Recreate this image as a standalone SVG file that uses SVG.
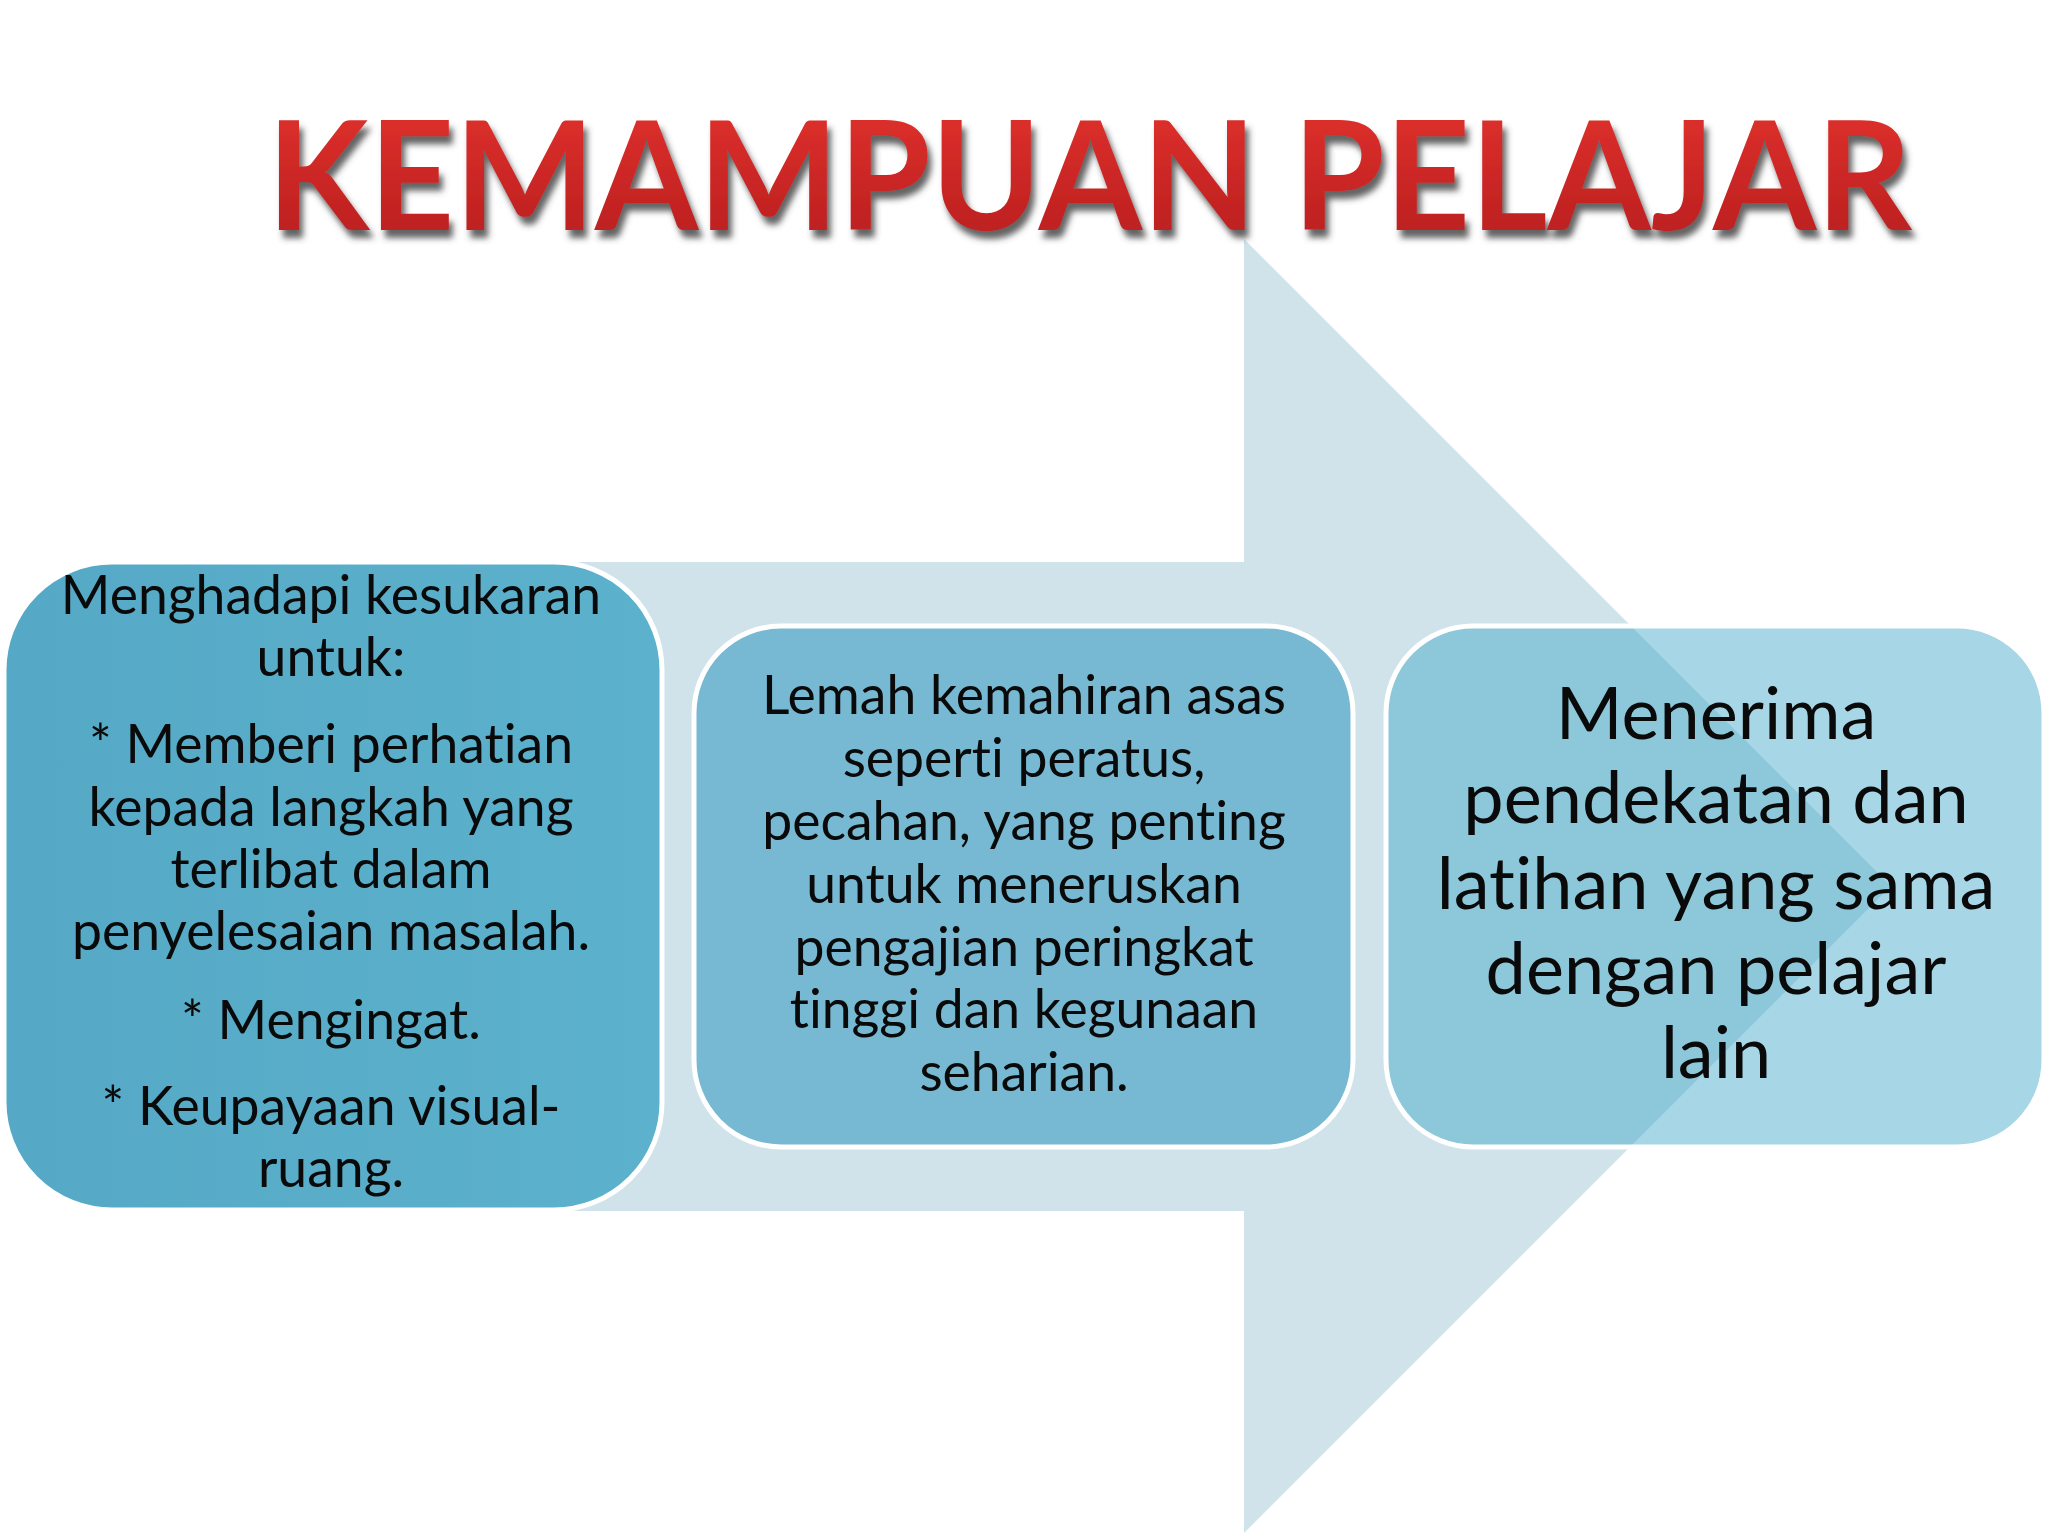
<svg xmlns="http://www.w3.org/2000/svg" width="2048" height="1536" viewBox="0 0 2048 1536">
  <defs>
    <linearGradient id="titleGrad" x1="0" y1="0" x2="0" y2="1">
      <stop offset="0" stop-color="#e6342f"/>
      <stop offset="1" stop-color="#b51c1d"/>
    </linearGradient>
    <linearGradient id="box1Grad" x1="0" y1="0" x2="1" y2="0">
      <stop offset="0" stop-color="#55a9c6"/>
      <stop offset="1" stop-color="#5cb1cc"/>
    </linearGradient>
    <filter id="titleShadow" x="-5%" y="-20%" width="110%" height="150%">
      <feDropShadow dx="4" dy="8" stdDeviation="3" flood-color="#4a4a4a" flood-opacity="0.85"/>
    </filter>
    <style>
      text { font-variant-ligatures: none; font-feature-settings: "liga" 0, "clig" 0; }
      .title { font-family: Lato, "Open Sans", "Liberation Sans", sans-serif; font-weight: 700; font-size: 152px; fill: url(#titleGrad); }
      .box { stroke: #ffffff; stroke-width: 5; }
      .txt { font-family: Lato, "Open Sans", "Liberation Sans", sans-serif; font-size: 53.5px; fill: #0a0a0a; text-anchor: middle; }
      .txt-lg { font-family: Lato, "Open Sans", "Liberation Sans", sans-serif; font-size: 72px; fill: #0a0a0a; text-anchor: middle; }
    </style>
  </defs>

  <rect x="0" y="0" width="2048" height="1536" fill="#ffffff"/>

  <g id="connectors">
    <polygon points="400,562 1244,562 1244,239 1891,886 1244,1533 1244,1211 400,1211" fill="#d0e3ea"/>
  </g>

  <g id="title">
    <text class="title" x="267" y="230" textLength="1645" lengthAdjust="spacingAndGlyphs" filter="url(#titleShadow)">KEMAMPUAN PELAJAR</text>
  </g>

  <g id="node-1">
    <rect class="box" x="4" y="562" width="658" height="648" rx="108" ry="108" fill="url(#box1Grad)"/>
    <text class="txt" x="331" y="614">Menghadapi kesukaran</text>
    <text class="txt" x="331" y="676">untuk:</text>
    <text class="txt" x="331" y="763">* Memberi perhatian</text>
    <text class="txt" x="331" y="826">kepada langkah yang</text>
    <text class="txt" x="331" y="888">terlibat dalam</text>
    <text class="txt" x="331" y="950">penyelesaian masalah.</text>
    <text class="txt" x="331" y="1039">* Mengingat.</text>
    <text class="txt" x="331" y="1125">* Keupayaan visual-</text>
    <text class="txt" x="331" y="1187">ruang.</text>
  </g>

  <g id="node-2">
    <rect class="box" x="694" y="626" width="659" height="521" rx="87" ry="87" fill="#77b9d2"/>
    <text class="txt" x="1024" y="714">Lemah kemahiran asas</text>
    <text class="txt" x="1024" y="777">seperti peratus,</text>
    <text class="txt" x="1024" y="840">pecahan, yang penting</text>
    <text class="txt" x="1024" y="903">untuk meneruskan</text>
    <text class="txt" x="1024" y="966">pengajian peringkat</text>
    <text class="txt" x="1024" y="1028">tinggi dan kegunaan</text>
    <text class="txt" x="1024" y="1091">seharian.</text>
  </g>

  <g id="node-3">
    <rect class="box" x="1386" y="626" width="658" height="521" rx="87" ry="87" fill="#3ca5c8" fill-opacity="0.45"/>
    <text class="txt-lg" x="1716" y="739">Menerima</text>
    <text class="txt-lg" x="1716" y="823">pendekatan dan</text>
    <text class="txt-lg" x="1716" y="909">latihan yang sama</text>
    <text class="txt-lg" x="1716" y="994">dengan pelajar</text>
    <text class="txt-lg" x="1716" y="1078">lain</text>
  </g>
</svg>
